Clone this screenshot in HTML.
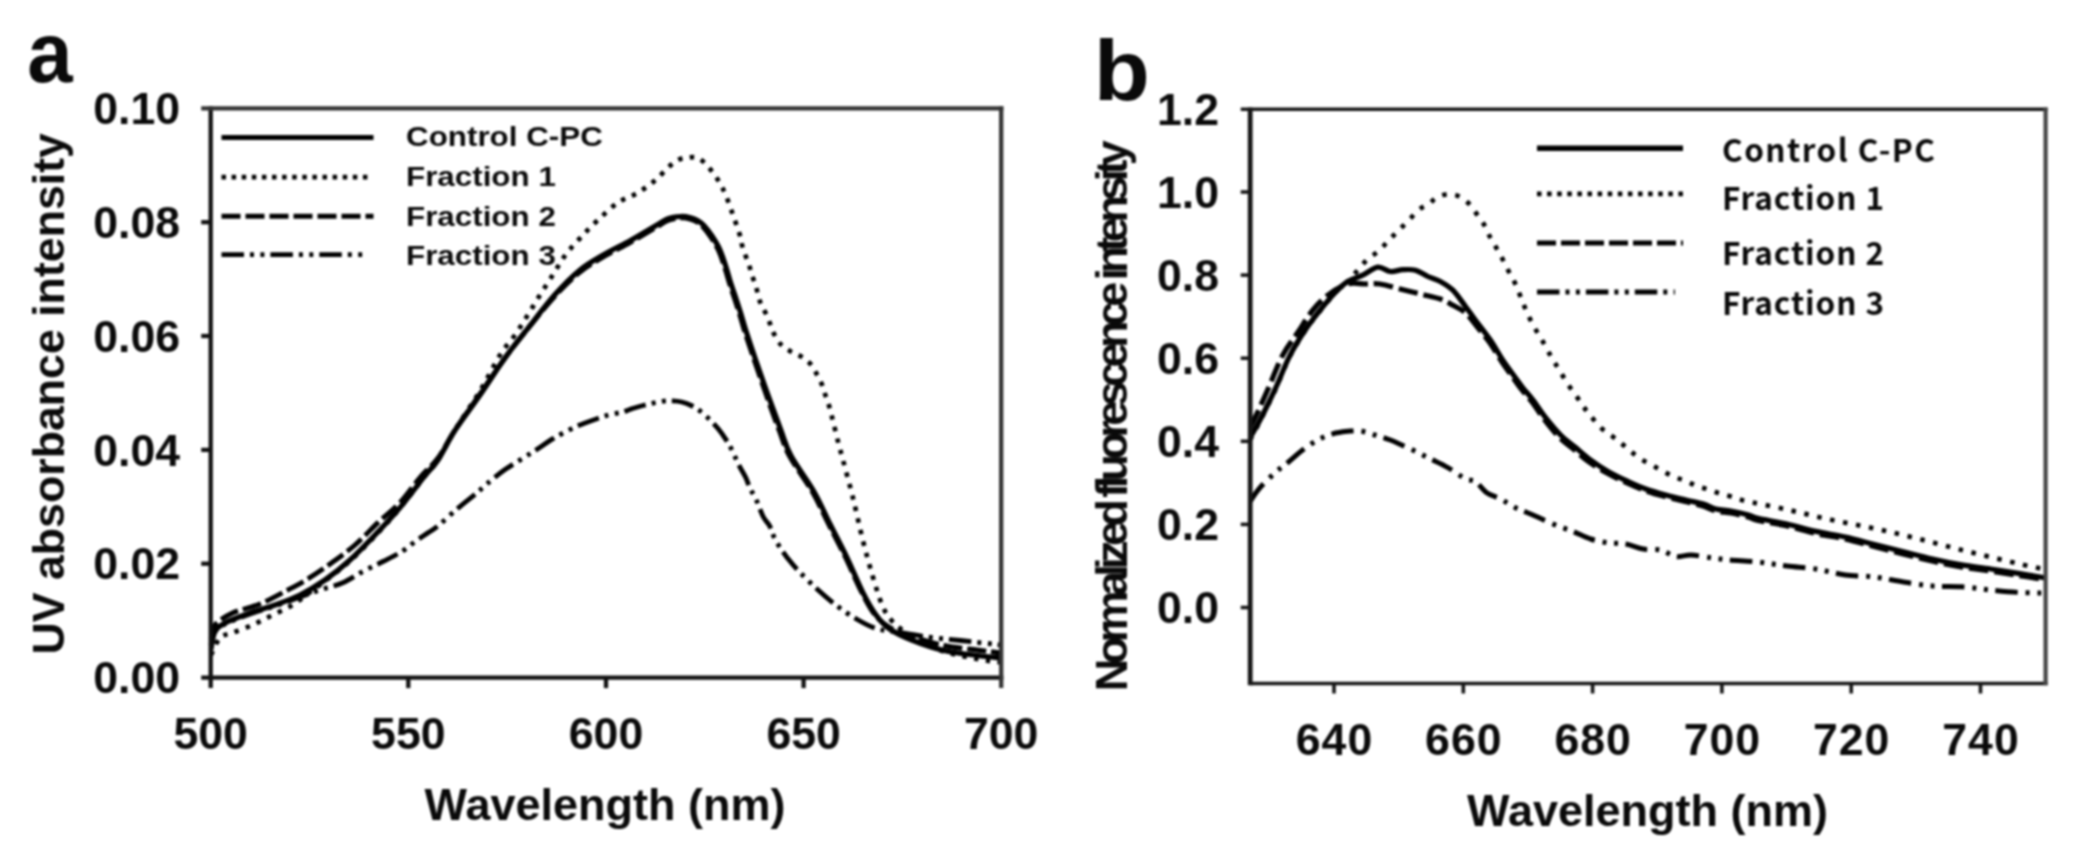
<!DOCTYPE html>
<html lang="en"><head><meta charset="utf-8"><title>Spectra of C-PC fractions</title>
<style>
html,body{margin:0;padding:0;background:#fff;}
body{width:2076px;height:860px;overflow:hidden;}
svg{display:block;filter:blur(0.85px);}
text{font-family:"Liberation Sans",Arial,Helvetica,sans-serif;font-weight:bold;fill:#0a0a0a;}
.tk{font-size:44.6px;}
.ax{font-size:45px;}
.ya{font-size:44.7px;}
.tb{letter-spacing:1.0px;}
.pl{font-size:85px;}
.la{font-size:28px;}
.lb{font-family:"Noto Sans CJK KR","Liberation Sans",sans-serif;font-size:31.5px;font-weight:bold;letter-spacing:0px;}
.yb{font-size:45px;letter-spacing:-5.6px;font-weight:bold;}
</style></head><body>
<svg width="2076" height="860" viewBox="0 0 2076 860">
<rect width="2076" height="860" fill="#fff"/>
<defs><clipPath id="ca"><rect x="208.5" y="106" width="795" height="573.5"/></clipPath><clipPath id="cb"><rect x="1248" y="107" width="800" height="578"/></clipPath></defs>
<g id="panel-a">
<g clip-path="url(#ca)" stroke-linejoin="round">
<path d="M211.0 650.0C211.7 647.0 212.7 636.3 215.0 632.0C217.3 627.7 219.2 627.0 225.0 624.0C230.8 621.0 241.7 617.0 250.0 614.0C258.3 611.0 266.7 608.8 275.0 606.0C283.3 603.2 292.5 599.7 300.0 597.0C307.5 594.3 312.9 592.4 320.0 590.0C327.1 587.6 335.7 585.8 342.8 582.7C349.9 579.6 356.1 575.0 362.8 571.5C369.5 568.0 376.4 564.9 383.0 561.5C389.6 558.1 396.8 554.7 402.3 551.2C407.9 547.7 412.0 543.8 416.3 540.7C420.6 537.6 424.7 535.1 428.4 532.6C432.1 530.1 433.4 529.7 438.4 525.6C443.3 521.5 451.7 513.5 458.1 508.1C464.5 502.7 471.9 497.1 476.7 493.0C481.5 488.9 482.5 487.6 487.2 483.7C491.9 479.8 498.4 474.2 504.7 469.8C511.0 465.4 519.7 460.3 524.9 457.0C530.1 453.7 531.2 453.1 536.0 450.0C540.8 446.9 547.3 442.1 553.5 438.4C559.7 434.7 568.3 430.4 573.3 427.9C578.3 425.4 579.6 425.1 583.7 423.5C587.8 421.9 593.3 419.9 597.7 418.4C602.1 416.9 605.9 415.6 610.0 414.6C614.1 413.6 618.5 413.1 622.1 412.2C625.7 411.2 628.0 410.0 631.5 408.9C635.0 407.8 637.9 406.8 643.0 405.5C648.1 404.2 657.0 402.1 661.9 401.3C666.8 400.5 669.0 400.8 672.3 400.9C675.6 401.0 678.6 401.2 681.7 402.0C684.9 402.8 688.1 403.9 691.2 405.5C694.4 407.1 697.5 409.0 700.6 411.4C703.7 413.8 707.1 416.9 710.0 419.8C712.9 422.7 715.6 425.6 718.0 428.6C720.4 431.6 722.5 434.4 724.6 437.6C726.8 440.8 728.5 443.3 730.9 448.0C733.3 452.7 736.8 460.9 739.3 465.8C741.8 470.7 743.9 473.6 745.6 477.3C747.4 481.0 748.1 484.1 749.8 487.8C751.5 491.5 753.7 494.4 756.0 499.3C758.3 504.2 761.1 512.6 763.4 517.0C765.7 521.4 767.9 522.6 769.6 525.9C771.3 529.1 772.1 532.9 773.8 536.5C775.5 540.1 777.7 543.8 780.0 547.4C782.3 551.0 784.4 554.1 787.4 557.9C790.4 561.7 792.8 564.8 797.7 570.0C802.6 575.2 810.5 583.0 817.0 589.0C823.5 595.0 830.3 600.8 836.8 605.7C843.3 610.7 849.5 614.9 856.0 618.7C862.5 622.5 869.5 626.3 876.0 628.5C882.5 630.7 886.3 630.3 895.0 631.7C903.7 633.1 917.1 635.5 928.0 637.0C938.9 638.5 948.4 639.2 960.6 640.5C972.8 641.8 994.3 644.2 1001.0 645.0" fill="none" stroke="#000" stroke-width="4.8" stroke-dasharray="22.5 6 4 6.4 4 6"/>
<path d="M211.0 655.0C212.5 652.1 216.4 641.6 220.0 637.9C223.6 634.2 227.1 634.9 232.5 632.8C237.9 630.6 245.9 628.0 252.6 625.0C259.3 622.0 265.9 618.3 272.6 615.0C279.3 611.7 286.5 608.8 292.7 605.0C298.9 601.2 304.6 596.0 310.0 592.0C315.4 588.0 318.3 586.2 325.0 581.0C331.7 575.8 341.7 568.5 350.0 561.0C358.3 553.5 366.7 544.8 375.0 536.0C383.3 527.2 391.7 518.0 400.0 508.0C408.3 498.0 418.7 484.0 425.0 476.0C431.3 468.0 433.0 467.7 438.0 460.0C443.0 452.3 448.0 441.5 455.0 430.0C462.0 418.5 472.5 403.5 480.0 391.0C487.5 378.5 494.2 364.3 500.0 355.0C505.8 345.7 510.4 341.7 515.0 335.0C519.6 328.3 523.6 321.7 527.8 315.0C532.0 308.3 535.8 301.7 540.0 295.0C544.2 288.3 548.6 281.7 552.8 275.0C557.0 268.3 560.8 261.2 565.4 255.0C570.0 248.8 575.0 243.6 580.4 237.8C585.8 232.0 591.7 225.8 598.0 220.0C604.3 214.2 611.3 207.2 618.0 202.7C624.7 198.1 631.7 196.5 638.0 192.7C644.3 188.9 650.6 184.2 655.6 180.0C660.6 175.8 664.3 170.9 668.0 167.6C671.7 164.3 674.7 161.7 678.0 160.0C681.3 158.3 684.7 157.9 688.0 157.6C691.3 157.3 694.7 156.5 698.0 158.0C701.3 159.5 704.7 162.7 708.0 166.4C711.3 170.1 715.0 175.2 718.0 180.0C721.0 184.8 723.2 189.2 725.7 195.0C728.2 200.8 730.6 208.3 733.0 215.0C735.4 221.7 738.4 230.2 739.9 235.2C741.4 240.2 741.1 241.6 742.0 245.0C742.9 248.4 744.3 252.1 745.5 255.5C746.7 258.9 748.2 262.4 749.3 265.6C750.3 268.9 750.8 271.8 751.8 275.0C752.8 278.2 754.5 281.4 755.6 284.8C756.7 288.2 757.2 292.0 758.1 295.3C759.0 298.6 759.8 301.4 761.2 304.7C762.6 307.9 764.9 311.4 766.5 314.8C768.1 318.2 769.3 321.9 770.6 325.2C771.9 328.5 772.6 331.4 774.4 334.6C776.1 337.9 778.4 341.9 781.1 344.7C783.8 347.5 787.4 349.4 790.7 351.4C794.1 353.4 797.9 354.5 801.2 356.6C804.5 358.7 807.8 361.0 810.4 363.9C813.0 366.8 814.8 370.6 816.7 374.0C818.6 377.4 820.5 381.1 821.9 384.5C823.3 387.9 824.0 391.1 825.1 394.3C826.2 397.5 827.3 400.2 828.4 403.7C829.5 407.1 829.8 408.4 831.5 415.0C833.2 421.6 836.5 435.5 838.4 443.0C840.3 450.5 840.6 450.8 843.0 460.0C845.4 469.2 849.7 484.6 853.0 498.0C856.3 511.4 859.6 527.5 862.9 540.5C866.2 553.5 869.4 565.1 872.6 576.0C875.9 586.9 879.2 598.2 882.4 605.7C885.6 613.2 888.2 616.6 892.0 621.0C895.8 625.4 900.3 628.7 905.0 632.0C909.7 635.3 913.5 637.8 920.0 641.0C926.5 644.2 934.5 648.5 944.0 651.5C953.5 654.5 967.5 657.2 977.0 659.0C986.5 660.8 997.0 661.9 1001.0 662.5" fill="none" stroke="#000" stroke-width="4.7" stroke-dasharray="4.5 7.3"/>
<path d="M211.0 640.0C211.7 637.5 211.4 629.5 215.0 625.0C218.6 620.5 225.0 616.5 232.5 613.0C240.0 609.5 251.2 607.6 260.0 604.0C268.8 600.4 277.1 595.7 285.0 591.5C292.9 587.3 300.2 583.6 307.7 579.0C315.2 574.4 322.1 569.7 330.0 564.0C337.9 558.3 347.0 551.9 355.0 545.0C363.0 538.1 370.5 529.7 378.0 522.6C385.5 515.5 393.0 510.1 400.0 502.6C407.0 495.1 413.7 484.9 420.0 477.5C426.3 470.1 432.2 465.9 438.0 458.0C443.8 450.1 448.0 440.7 455.0 430.0C462.0 419.3 471.7 406.0 480.0 394.0C488.3 382.0 496.7 369.3 505.0 358.0C513.3 346.7 521.7 336.3 530.0 326.0C538.3 315.7 546.7 305.0 555.0 296.0C563.3 287.0 571.7 278.7 580.0 272.0C588.3 265.3 596.7 260.9 605.0 256.0C613.3 251.1 621.7 247.2 630.0 242.5C638.3 237.8 648.7 231.7 655.0 228.0C661.3 224.3 663.8 222.3 668.0 220.6C672.2 218.9 676.3 218.3 680.0 218.0C683.7 217.7 687.2 218.3 690.0 219.0C692.8 219.7 694.8 220.7 697.0 222.0C699.2 223.3 700.7 224.4 703.0 227.0C705.3 229.6 708.3 233.4 711.0 237.5C713.7 241.6 716.7 246.3 719.0 251.5C721.3 256.7 723.2 263.2 725.0 268.5C726.8 273.8 727.9 278.5 729.5 283.5C731.1 288.5 732.8 293.2 734.5 298.5C736.2 303.8 738.1 309.6 739.8 315.0C741.5 320.4 742.1 323.5 744.5 331.0C746.9 338.5 750.6 349.3 754.2 360.0C757.8 370.7 762.2 383.3 766.3 395.0C770.4 406.7 775.1 419.8 779.0 430.0C782.9 440.2 783.9 445.7 789.5 456.0C795.1 466.3 806.0 480.7 812.5 492.0C819.0 503.3 823.0 513.2 828.5 524.0C834.0 534.8 839.8 545.7 845.3 557.0C850.8 568.3 856.5 582.3 861.5 592.0C866.5 601.7 870.4 609.2 875.0 615.0C879.6 620.8 883.0 623.5 889.0 627.0C895.0 630.5 901.8 632.9 911.0 636.0C920.2 639.1 933.0 643.2 944.0 645.5C955.0 647.8 967.5 648.8 977.0 650.0C986.5 651.2 997.0 652.5 1001.0 653.0" fill="none" stroke="#000" stroke-width="4.9" stroke-dasharray="19 5"/>
<path d="M211.0 646.0C211.5 643.7 211.7 635.8 214.0 632.0C216.3 628.2 219.0 626.2 225.0 623.0C231.0 619.8 241.7 616.0 250.0 613.0C258.3 610.0 266.7 608.0 275.0 605.0C283.3 602.0 291.7 599.2 300.0 595.0C308.3 590.8 316.7 585.8 325.0 580.0C333.3 574.2 341.7 567.5 350.0 560.0C358.3 552.5 366.7 543.7 375.0 535.0C383.3 526.3 391.6 517.6 400.0 507.6C408.4 497.6 419.2 482.9 425.5 475.0C431.8 467.1 433.1 467.4 438.0 460.0C442.9 452.6 448.0 441.2 455.0 430.4C462.0 419.6 471.7 407.1 480.0 395.0C488.3 382.9 496.7 369.6 505.0 358.0C513.3 346.4 521.7 336.2 530.0 325.6C538.3 315.0 546.7 303.9 555.0 294.6C563.3 285.3 571.7 276.8 580.0 270.0C588.3 263.2 596.6 258.9 605.0 254.0C613.4 249.1 622.1 245.2 630.5 240.5C638.9 235.8 649.4 229.5 655.6 225.8C661.9 222.2 663.8 220.2 668.0 218.6C672.2 217.0 676.8 216.7 680.6 216.5C684.4 216.3 687.8 217.0 690.6 217.7C693.4 218.4 695.3 219.2 697.5 220.5C699.7 221.8 701.5 222.9 703.9 225.5C706.3 228.1 709.3 231.9 712.0 236.0C714.7 240.1 717.7 244.8 720.0 250.0C722.3 255.2 724.2 261.6 726.0 267.0C727.8 272.4 728.9 277.3 730.5 282.3C732.1 287.3 733.8 291.8 735.5 297.0C737.2 302.2 739.2 308.2 740.9 313.7C742.6 319.2 743.2 322.3 745.7 330.0C748.2 337.7 752.0 349.2 755.7 360.0C759.4 370.8 763.8 383.3 768.0 395.0C772.2 406.7 777.0 419.9 780.8 430.0C784.6 440.1 785.5 445.5 791.0 455.8C796.5 466.1 807.5 480.3 814.0 491.7C820.5 503.1 824.6 513.1 830.0 524.0C835.4 534.9 841.1 545.4 846.6 556.8C852.1 568.2 858.0 582.9 862.9 592.6C867.8 602.3 871.6 609.0 876.0 615.0C880.4 621.0 883.0 624.3 889.0 628.5C895.0 632.7 902.5 636.3 911.7 640.0C920.9 643.7 933.1 647.9 944.0 650.5C954.9 653.1 967.5 654.2 977.0 655.5C986.5 656.8 997.0 657.6 1001.0 658.0" fill="none" stroke="#000" stroke-width="5.2"/>
</g>
<g stroke="#111" stroke-width="4.3" fill="none">
<line x1="210.7" y1="106.14999999999999" x2="210.7" y2="688.1"/>
<line x1="201.2" y1="677.6" x2="1003.35" y2="677.6"/>
<line x1="201.2" y1="108.3" x2="1003.35" y2="108.3" stroke="#333"/>
<line x1="1001.2" y1="106.14999999999999" x2="1001.2" y2="688.1" stroke="#333"/>
<line x1="201.2" y1="563.7" x2="210.7" y2="563.7"/>
<line x1="201.2" y1="449.9" x2="210.7" y2="449.9"/>
<line x1="201.2" y1="336.0" x2="210.7" y2="336.0"/>
<line x1="201.2" y1="222.2" x2="210.7" y2="222.2"/>
<line x1="408.3" y1="677.6" x2="408.3" y2="688.1"/>
<line x1="606.0" y1="677.6" x2="606.0" y2="688.1"/>
<line x1="803.6" y1="677.6" x2="803.6" y2="688.1"/>
</g>
<text class="tk" x="180" y="693.3" text-anchor="end">0.00</text>
<text class="tk" x="180" y="579.4" text-anchor="end">0.02</text>
<text class="tk" x="180" y="465.6" text-anchor="end">0.04</text>
<text class="tk" x="180" y="351.7" text-anchor="end">0.06</text>
<text class="tk" x="180" y="237.9" text-anchor="end">0.08</text>
<text class="tk" x="180" y="124.0" text-anchor="end">0.10</text>
<text class="tk" x="210.7" y="749" text-anchor="middle">500</text>
<text class="tk" x="408.3" y="749" text-anchor="middle">550</text>
<text class="tk" x="606.0" y="749" text-anchor="middle">600</text>
<text class="tk" x="803.6" y="749" text-anchor="middle">650</text>
<text class="tk" x="1001.2" y="749" text-anchor="middle">700</text>
<text class="ax" x="605" y="819.8" text-anchor="middle">Wavelength (nm)</text>
<text class="ax ya" transform="translate(64 393.8) rotate(-90)" text-anchor="middle">UV absorbance intensity</text>
<text class="pl" transform="translate(27.2 82) scale(0.96 1)">a</text>
<line x1="221.5" y1="137.6" x2="373.5" y2="137.6" stroke="#000" stroke-width="5.0"/>
<line x1="221.5" y1="177.2" x2="368" y2="177.2" stroke="#000" stroke-width="4.7" stroke-dasharray="4.5 5.6"/>
<line x1="221.5" y1="216.2" x2="373.5" y2="216.2" stroke="#000" stroke-width="5.0" stroke-dasharray="19 5"/>
<line x1="221.5" y1="254.6" x2="365" y2="254.6" stroke="#000" stroke-width="4.6" stroke-dasharray="22.5 6 4 6.4 4 6"/>
<text class="la" transform="translate(406 146.3) scale(1.12 1)">Control C-PC</text>
<text class="la" transform="translate(406 186.2) scale(1.12 1)">Fraction 1</text>
<text class="la" transform="translate(406 225.6) scale(1.12 1)">Fraction 2</text>
<text class="la" transform="translate(406 265.3) scale(1.12 1)">Fraction 3</text>
</g>
<g id="panel-b">
<g clip-path="url(#cb)" stroke-linejoin="round">
<path d="M1250.0 501.5C1251.7 499.2 1255.8 492.5 1260.0 487.7C1264.2 482.9 1270.4 476.9 1275.0 472.7C1279.6 468.5 1283.0 466.5 1287.6 462.7C1292.2 458.9 1297.6 453.8 1302.6 450.0C1307.6 446.2 1312.7 442.7 1317.7 440.0C1322.7 437.3 1327.7 435.2 1332.7 433.8C1337.7 432.4 1343.2 431.8 1347.7 431.3C1352.2 430.8 1355.5 430.2 1360.0 430.8C1364.5 431.4 1370.0 433.5 1375.0 435.0C1380.0 436.5 1384.4 437.7 1390.3 440.0C1396.2 442.3 1403.6 445.8 1410.3 448.9C1417.0 452.0 1424.1 455.8 1430.4 458.9C1436.7 462.0 1442.1 464.4 1447.9 467.7C1453.8 471.0 1460.9 476.6 1465.5 478.9C1470.1 481.2 1472.0 479.1 1475.5 481.4C1479.0 483.7 1482.5 489.8 1486.7 492.7C1490.9 495.6 1495.7 496.5 1500.5 499.0C1505.3 501.5 1510.2 505.0 1515.6 507.7C1521.0 510.4 1526.8 512.3 1533.0 515.0C1539.2 517.7 1546.3 521.2 1553.0 524.0C1559.7 526.8 1566.7 529.0 1573.0 531.5C1579.3 534.0 1584.9 537.1 1590.7 539.0C1596.5 540.9 1602.2 542.0 1608.0 542.8C1613.8 543.6 1619.9 543.0 1625.8 544.0C1631.7 545.0 1637.5 548.0 1643.3 549.0C1649.1 550.0 1655.4 548.7 1660.8 550.0C1666.2 551.3 1670.9 555.8 1675.9 556.6C1680.9 557.4 1685.1 554.8 1690.9 555.0C1696.8 555.2 1704.7 557.0 1711.0 557.8C1717.3 558.6 1721.2 559.3 1729.0 560.0C1736.8 560.7 1748.3 561.0 1758.0 562.0C1767.7 563.0 1777.3 564.8 1787.0 566.0C1796.7 567.2 1806.3 567.5 1816.0 569.0C1825.7 570.5 1835.7 573.7 1845.4 575.0C1855.2 576.3 1864.8 575.8 1874.5 577.0C1884.2 578.2 1893.8 580.5 1903.5 582.0C1913.2 583.5 1922.9 585.2 1932.6 586.0C1942.3 586.8 1952.0 586.0 1961.7 586.7C1971.4 587.4 1981.1 589.0 1990.8 590.0C2000.5 591.0 2010.7 592.0 2019.9 592.5C2029.1 593.0 2041.7 592.9 2046.0 593.0" fill="none" stroke="#000" stroke-width="5.0" stroke-dasharray="22.5 8 4 7.6 4 7.4"/>
<path d="M1250.0 440.0C1251.7 436.8 1256.7 427.5 1260.0 421.0C1263.3 414.5 1267.2 406.8 1270.0 401.0C1272.8 395.2 1273.7 393.5 1277.0 386.0C1280.3 378.5 1285.3 365.2 1290.0 356.0C1294.7 346.8 1300.0 338.5 1305.0 331.0C1310.0 323.5 1315.0 317.3 1320.0 311.0C1325.0 304.7 1330.4 297.9 1335.0 293.0C1339.6 288.1 1343.9 285.3 1347.7 281.5C1351.5 277.7 1354.4 273.9 1357.7 270.2C1361.0 266.4 1364.2 262.2 1367.8 259.0C1371.3 255.8 1375.5 253.9 1379.0 250.7C1382.5 247.5 1385.7 243.4 1389.0 240.0C1392.3 236.6 1395.7 233.3 1399.0 230.0C1402.3 226.7 1405.7 223.4 1409.0 220.0C1412.3 216.6 1415.7 212.3 1419.0 209.6C1422.3 206.9 1426.1 206.0 1429.0 204.0C1431.9 202.0 1433.4 199.1 1436.6 197.5C1439.8 195.9 1444.2 194.5 1447.9 194.3C1451.6 194.1 1455.5 194.7 1459.0 196.3C1462.5 197.9 1466.0 200.9 1469.0 203.8C1472.0 206.8 1474.2 210.6 1476.7 214.0C1479.2 217.4 1482.0 221.0 1484.0 224.5C1486.0 228.0 1487.1 231.3 1489.0 235.0C1490.9 238.7 1493.4 242.6 1495.5 246.4C1497.6 250.2 1499.7 253.8 1501.8 257.7C1503.9 261.6 1506.0 266.1 1508.0 270.0C1510.0 273.9 1512.2 277.2 1514.0 281.0C1515.8 284.8 1517.5 289.0 1519.0 292.7C1520.5 296.4 1521.5 299.3 1523.0 303.0C1524.5 306.7 1526.2 310.9 1528.0 314.8C1529.8 318.7 1531.9 322.8 1534.0 326.6C1536.1 330.4 1538.4 333.8 1540.6 337.5C1542.8 341.2 1544.8 345.2 1546.9 349.0C1549.0 352.8 1550.9 356.5 1553.0 360.0C1555.1 363.5 1557.1 366.2 1559.4 370.0C1561.7 373.8 1564.3 378.8 1567.0 383.0C1569.7 387.2 1573.0 391.2 1575.7 395.0C1578.4 398.8 1580.5 402.5 1583.0 406.0C1585.5 409.5 1587.8 412.4 1590.7 416.0C1593.7 419.6 1597.2 424.3 1600.7 427.6C1604.2 430.9 1608.5 433.3 1612.0 436.0C1615.5 438.7 1618.9 441.3 1622.0 443.9C1625.1 446.5 1627.7 448.9 1630.8 451.4C1633.9 453.9 1637.3 456.6 1640.8 458.9C1644.3 461.2 1648.2 462.9 1652.0 465.0C1655.8 467.1 1659.5 469.4 1663.3 471.4C1667.1 473.4 1670.8 475.4 1674.6 477.0C1678.4 478.6 1682.2 479.5 1685.9 481.0C1689.6 482.5 1693.2 484.6 1697.0 486.0C1700.8 487.4 1704.6 488.2 1708.4 489.5C1712.2 490.8 1715.9 492.3 1719.7 493.5C1723.5 494.7 1727.0 495.3 1731.0 496.5C1735.0 497.7 1734.3 498.3 1743.6 500.5C1752.9 502.7 1772.5 506.4 1787.0 509.6C1801.5 512.8 1816.3 516.6 1830.9 519.8C1845.5 522.9 1860.0 525.4 1874.5 528.5C1889.0 531.6 1903.5 535.1 1918.0 538.7C1932.5 542.3 1947.2 546.4 1961.7 550.0C1976.2 553.6 1992.5 557.5 2005.0 560.5C2017.5 563.5 2030.2 566.4 2037.0 567.8C2043.8 569.2 2044.5 568.8 2046.0 569.0" fill="none" stroke="#000" stroke-width="4.7" stroke-dasharray="4.5 8.7"/>
<path d="M1250.0 427.6C1251.2 425.1 1254.6 418.9 1257.5 412.6C1260.4 406.3 1263.4 399.5 1267.6 390.0C1271.8 380.5 1277.6 364.9 1282.6 355.4C1287.6 345.9 1292.6 340.3 1297.6 332.8C1302.6 325.3 1307.6 316.6 1312.6 310.3C1317.6 304.1 1321.8 299.7 1327.7 295.3C1333.6 290.9 1341.5 285.9 1347.7 284.0C1353.9 282.1 1359.6 284.0 1365.0 284.0C1370.4 284.0 1374.2 283.2 1380.0 284.0C1385.8 284.8 1393.3 287.3 1400.0 289.0C1406.7 290.7 1413.7 292.3 1420.4 294.0C1427.1 295.7 1435.0 297.1 1440.4 299.0C1445.8 300.9 1448.8 303.0 1453.0 305.3C1457.2 307.6 1461.3 309.1 1465.5 312.8C1469.7 316.6 1473.9 322.8 1478.0 327.8C1482.1 332.8 1486.0 337.3 1490.0 343.0C1494.0 348.7 1498.0 356.0 1502.0 362.0C1506.0 368.0 1510.7 374.3 1514.0 379.0C1517.3 383.7 1519.0 386.2 1522.0 390.0C1525.0 393.8 1528.3 397.2 1532.0 402.0C1535.7 406.8 1539.5 413.2 1544.0 419.0C1548.5 424.8 1554.0 431.9 1559.0 437.0C1564.0 442.1 1569.0 445.3 1574.0 449.5C1579.0 453.7 1583.5 458.1 1589.0 462.0C1594.5 465.9 1600.7 469.5 1607.0 473.0C1613.3 476.5 1620.7 480.1 1627.0 483.0C1633.3 485.9 1638.7 488.2 1645.0 490.5C1651.3 492.8 1658.3 494.7 1665.0 496.5C1671.7 498.3 1678.7 499.9 1685.0 501.5C1691.3 503.1 1697.8 504.4 1703.0 506.0C1708.2 507.6 1711.3 509.8 1716.0 511.0C1720.7 512.2 1725.7 512.0 1731.0 513.0C1736.3 514.0 1743.5 515.8 1748.0 517.0C1752.5 518.2 1751.5 519.0 1758.0 520.5C1764.5 522.0 1777.3 523.8 1787.0 526.0C1796.7 528.2 1806.3 531.3 1816.0 533.5C1825.7 535.7 1835.3 536.8 1845.0 539.0C1854.7 541.2 1864.3 544.0 1874.0 546.5C1883.7 549.0 1893.3 551.6 1903.0 554.0C1912.7 556.4 1922.3 558.8 1932.0 561.0C1941.7 563.2 1951.3 565.3 1961.0 567.0C1970.7 568.7 1980.3 569.6 1990.0 571.0C1999.7 572.4 2009.7 574.0 2019.0 575.5C2028.3 577.0 2041.5 579.2 2046.0 580.0" fill="none" stroke="#000" stroke-width="5.2" stroke-dasharray="19.5 6"/>
<path d="M1250.0 437.6C1251.7 434.7 1256.7 426.3 1260.0 420.0C1263.3 413.7 1267.2 405.8 1270.0 400.0C1272.8 394.2 1273.7 392.4 1277.0 385.0C1280.3 377.6 1285.3 364.5 1290.0 355.4C1294.7 346.3 1300.0 337.8 1305.0 330.3C1310.0 322.8 1315.0 316.6 1320.0 310.3C1325.0 304.0 1330.4 297.5 1335.0 292.7C1339.6 287.9 1343.1 284.4 1347.7 281.5C1352.3 278.6 1357.7 277.6 1362.7 275.2C1367.7 272.8 1373.2 267.8 1377.8 267.2C1382.4 266.6 1386.1 271.1 1390.3 271.5C1394.5 271.9 1398.6 269.9 1402.8 269.7C1407.0 269.5 1411.2 269.1 1415.4 270.2C1419.6 271.3 1423.7 274.6 1427.9 276.5C1432.1 278.4 1436.2 279.2 1440.4 281.5C1444.6 283.8 1448.7 286.0 1452.9 290.2C1457.1 294.4 1461.7 301.5 1465.5 306.5C1469.3 311.5 1471.3 314.7 1475.5 320.3C1479.7 325.9 1485.9 333.6 1490.5 340.3C1495.1 347.0 1498.8 354.1 1503.0 360.4C1507.2 366.7 1512.3 373.3 1515.6 377.9C1518.9 382.5 1520.1 384.3 1523.0 388.0C1525.9 391.7 1529.2 395.1 1533.0 400.0C1536.8 404.9 1541.0 411.8 1545.6 417.6C1550.2 423.4 1555.6 430.0 1560.6 435.0C1565.6 440.0 1570.7 443.4 1575.7 447.6C1580.7 451.8 1585.3 456.0 1590.7 460.0C1596.1 464.0 1601.8 467.8 1608.0 471.4C1614.2 475.0 1621.7 478.5 1628.0 481.4C1634.3 484.3 1639.5 486.7 1645.8 489.0C1652.1 491.3 1659.2 493.2 1665.9 495.0C1672.6 496.8 1679.7 498.5 1685.9 500.0C1692.2 501.5 1698.4 502.5 1703.4 504.0C1708.4 505.5 1711.4 507.8 1716.0 509.0C1720.6 510.2 1725.6 510.0 1731.0 511.0C1736.4 512.0 1744.0 513.8 1748.5 515.0C1753.0 516.2 1751.6 516.8 1758.0 518.3C1764.4 519.8 1777.3 521.8 1787.0 524.0C1796.7 526.2 1806.3 529.2 1816.0 531.4C1825.7 533.6 1835.7 534.8 1845.4 537.0C1855.2 539.2 1864.8 542.0 1874.5 544.5C1884.2 547.0 1893.8 549.4 1903.5 551.8C1913.2 554.2 1922.9 556.8 1932.6 559.0C1942.3 561.2 1952.0 563.2 1961.7 564.9C1971.4 566.6 1981.1 567.5 1990.8 569.0C2000.5 570.5 2010.7 572.1 2019.9 573.6C2029.1 575.1 2041.7 577.3 2046.0 578.0" fill="none" stroke="#000" stroke-width="5.2"/>
</g>
<g stroke="#161616" stroke-width="4.8" fill="none">
<line x1="1250.2" y1="107.6" x2="1250.2" y2="685.3"/>
<line x1="1250.2" y1="683.5" x2="2047.6" y2="683.5" stroke-width="3.6"/>
<line x1="1240.7" y1="109.3" x2="2047.6" y2="109.3" stroke-width="3.4"/>
<line x1="2045.6" y1="107.6" x2="2045.6" y2="685.3" stroke="#444" stroke-width="4.2"/>
<line x1="1240.7" y1="607.5" x2="1250.2" y2="607.5" stroke-width="3.6"/>
<line x1="1240.7" y1="524.4" x2="1250.2" y2="524.4" stroke-width="3.6"/>
<line x1="1240.7" y1="441.3" x2="1250.2" y2="441.3" stroke-width="3.6"/>
<line x1="1240.7" y1="358.2" x2="1250.2" y2="358.2" stroke-width="3.6"/>
<line x1="1240.7" y1="275.1" x2="1250.2" y2="275.1" stroke-width="3.6"/>
<line x1="1240.7" y1="192.0" x2="1250.2" y2="192.0" stroke-width="3.6"/>
<line x1="1334.0" y1="683.5" x2="1334.0" y2="693.5" stroke-width="3.6"/>
<line x1="1463.3" y1="683.5" x2="1463.3" y2="693.5" stroke-width="3.6"/>
<line x1="1592.6" y1="683.5" x2="1592.6" y2="693.5" stroke-width="3.6"/>
<line x1="1721.9" y1="683.5" x2="1721.9" y2="693.5" stroke-width="3.6"/>
<line x1="1851.2" y1="683.5" x2="1851.2" y2="693.5" stroke-width="3.6"/>
<line x1="1980.5" y1="683.5" x2="1980.5" y2="693.5" stroke-width="3.6"/>
</g>
<text class="tk" x="1219" y="623.2" text-anchor="end">0.0</text>
<text class="tk" x="1219" y="540.1" text-anchor="end">0.2</text>
<text class="tk" x="1219" y="457.0" text-anchor="end">0.4</text>
<text class="tk" x="1219" y="373.9" text-anchor="end">0.6</text>
<text class="tk" x="1219" y="290.8" text-anchor="end">0.8</text>
<text class="tk" x="1219" y="207.7" text-anchor="end">1.0</text>
<text class="tk" x="1219" y="124.6" text-anchor="end">1.2</text>
<text class="tk tb" x="1334.5" y="754.7" text-anchor="middle">640</text>
<text class="tk tb" x="1463.8" y="754.7" text-anchor="middle">660</text>
<text class="tk tb" x="1593.1" y="754.7" text-anchor="middle">680</text>
<text class="tk tb" x="1722.4" y="754.7" text-anchor="middle">700</text>
<text class="tk tb" x="1851.7" y="754.7" text-anchor="middle">720</text>
<text class="tk tb" x="1981.0" y="754.7" text-anchor="middle">740</text>
<text class="ax" x="1647.5" y="826" text-anchor="middle">Wavelength (nm)</text>
<text class="ax yb" transform="translate(1126.5 418.5) rotate(-90)" text-anchor="middle">Normalized fluorescence intensity</text>
<text class="pl" transform="translate(1093.8 100.3) scale(1.08 1)">b</text>
<line x1="1537" y1="148.3" x2="1683" y2="148.3" stroke="#000" stroke-width="5.4"/>
<line x1="1537" y1="193.8" x2="1683" y2="193.8" stroke="#000" stroke-width="4.7" stroke-dasharray="4.5 5.6"/>
<line x1="1537" y1="243" x2="1683" y2="243" stroke="#000" stroke-width="5.0" stroke-dasharray="19 5"/>
<line x1="1537" y1="292" x2="1675" y2="292" stroke="#000" stroke-width="5.0" stroke-dasharray="22.5 6 4 6.4 4 6"/>
<text class="lb" x="1722" y="162.4" textLength="213" lengthAdjust="spacing">Control C-PC</text>
<text class="lb" x="1722" y="209.7" textLength="162" lengthAdjust="spacing">Fraction 1</text>
<text class="lb" x="1722" y="264.7" textLength="162" lengthAdjust="spacing">Fraction 2</text>
<text class="lb" x="1722" y="314.6" textLength="162" lengthAdjust="spacing">Fraction 3</text>
</g>
</svg>
</body></html>
